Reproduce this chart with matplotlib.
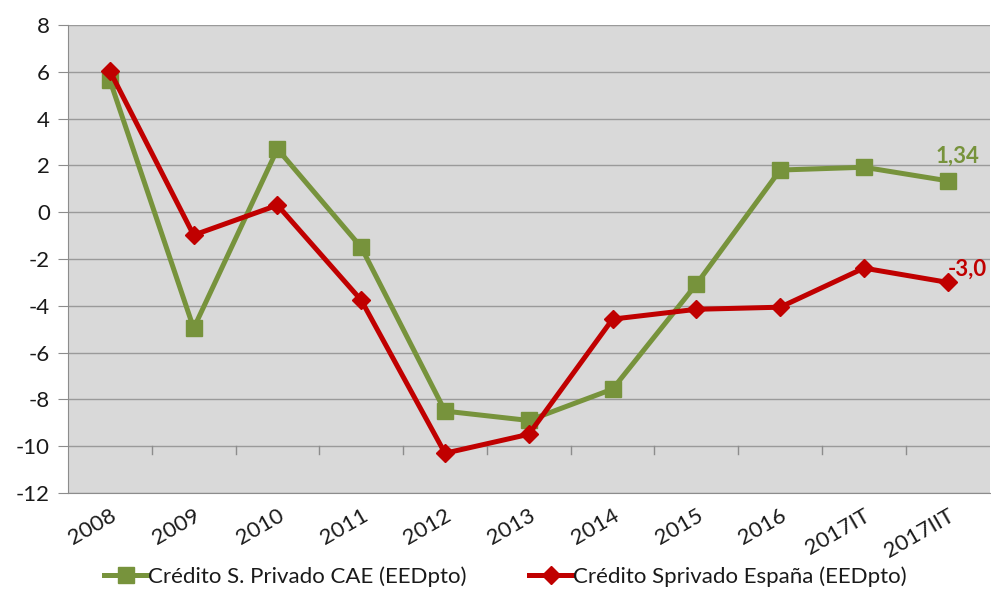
import matplotlib
matplotlib.use("Agg")
import matplotlib.pyplot as plt
from matplotlib.lines import Line2D

plt.rcParams['font.family'] = ['Lato', 'DejaVu Sans']
plt.rcParams['axes.unicode_minus'] = False

categories = ["2008", "2009", "2010", "2011", "2012", "2013", "2014",
              "2015", "2016", "2017IT", "2017IIT"]
cae = [5.64, -4.96, 2.70, -1.50, -8.50, -8.90, -7.56, -3.08, 1.80, 1.92, 1.34]
espana = [6.03, -0.98, 0.30, -3.76, -10.30, -9.49, -4.57, -4.15, -4.06, -2.39, -3.0]
labels = ["Crédito S. Privado CAE (EEDpto)", "Crédito Sprivado España (EEDpto)"]

green = "#77933C"
red = "#C00000"

fig = plt.figure(figsize=(9.91, 5.94), dpi=100)
ax = fig.add_axes([0.0686, 0.170, 0.930, 0.788])
ax.set_facecolor("#D9D9D9")

x = list(range(len(categories)))
ax.plot(x, cae, color=green, lw=3.6, marker="s", markersize=12, zorder=3)
ax.plot(x, espana, color=red, lw=3.6, marker="D", markersize=9.5, zorder=4)

ax.set_xlim(-0.5, len(categories) - 0.5)
ax.set_ylim(-12, 8)
ax.set_yticks(range(-12, 9, 2))
ax.yaxis.grid(True, color="#9A9A9A", lw=1)
ax.set_axisbelow(True)

for s in ["top", "right"]:
    ax.spines[s].set_visible(False)
for s in ["left", "bottom"]:
    ax.spines[s].set_color("#8C8C8C")
ax.tick_params(axis="y", length=7, color="#8C8C8C", labelsize=16, pad=6,
               labelcolor="#1A1A1A")

# category separators drawn on the -10 line
ax.set_xticks(x)
ax.set_xticklabels(categories, rotation=30, fontsize=16, ha="right",
                   rotation_mode="anchor", color="#1A1A1A")
ax.tick_params(axis="x", length=0, pad=9)
for i in range(1, len(categories)):
    ax.plot([i - 0.5, i - 0.5], [-10, -10.35], color="#8C8C8C", lw=1, zorder=2)

ax.annotate(f"{cae[-1]:.2f}".replace(".", ","), (x[-1], cae[-1]),
            xytext=(7, 13), textcoords="offset points", ha="center",
            color=green, fontsize=16, fontweight="bold")
ax.annotate(f"{espana[-1]:.1f}".replace(".", ","), (x[-1], espana[-1]),
            xytext=(14, 5), textcoords="offset points", ha="center",
            color=red, fontsize=16, fontweight="bold")

handles = [Line2D([], [], color=green, lw=3.6, marker="s", markersize=12),
           Line2D([], [], color=red, lw=3.6, marker="D", markersize=9.5)]
fig.legend(handles, labels, loc="lower center", bbox_to_anchor=(0.51, -0.022),
           ncol=2, frameon=False, fontsize=16, handlelength=2.0,
           handletextpad=0.0, columnspacing=2.8, labelcolor="#1A1A1A")

fig.savefig("out.png", dpi=100, facecolor="white")
